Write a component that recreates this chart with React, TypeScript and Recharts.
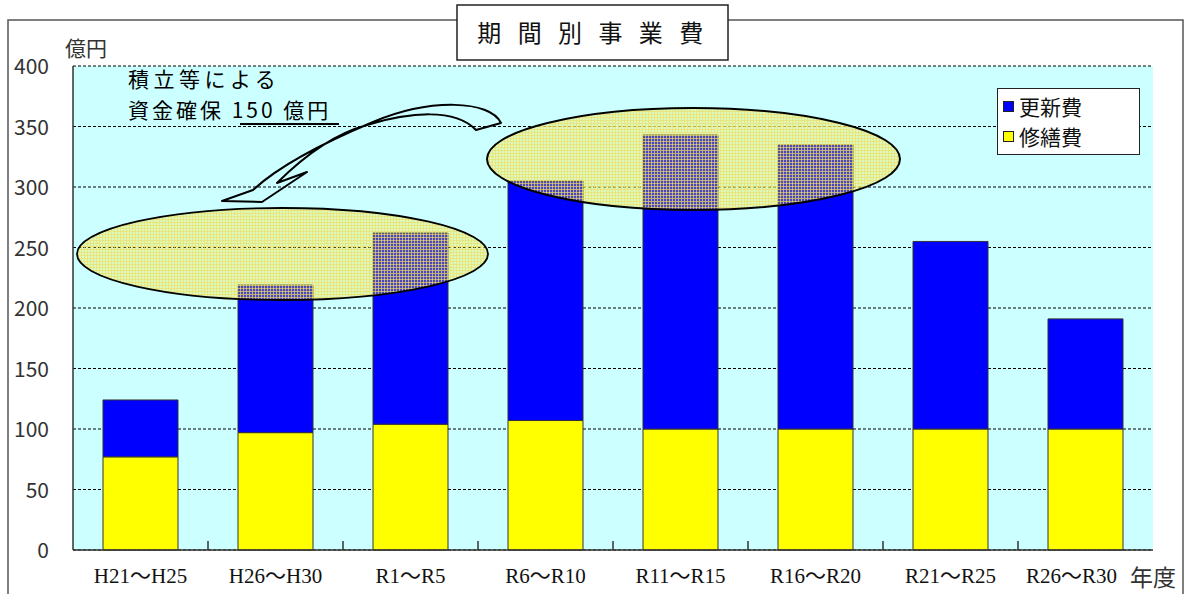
import React from 'react';
import { BarChart, Bar, XAxis, YAxis, CartesianGrid, Legend } from 'recharts';

const periods = ['H21～H25', 'H26～H30', 'R1～R5', 'R6～R10', 'R11～R15', 'R16～R20', 'R21～R25', 'R26～R30'];
const repairCost = [77, 97, 104, 107, 100, 100, 100, 100];
const renewalCost = [47, 122, 158, 198, 243, 235, 155, 91];
const yTicks = [0, 50, 100, 150, 200, 250, 300, 350, 400];

const data = periods.map((p, i) => ({ period: p, repair: repairCost[i], renewal: renewalCost[i] }));

const SANS = "'Noto Sans CJK JP', 'Noto Sans', sans-serif";
const SERIF = "'Liberation Serif', 'Noto Sans CJK JP', serif";

const XTick = (props: any) => {
  const axisW = typeof props.width === 'number' && props.width > 0 ? props.width : 1080;
  const half = axisW / periods.length / 2;
  const isLast = props.index === periods.length - 1;
  return (
    <g>
      {!isLast && <line x1={props.x + half} x2={props.x + half} y1={props.y} y2={props.y - 9} stroke="#333" strokeWidth={1.5} />}
      <text x={props.x} y={props.y} dx={isLast ? -14 : 0} dy={33} textAnchor="middle" fontFamily={SERIF} fontSize={21} fill="#111">
        {props.payload.value}
      </text>
    </g>
  );
};

const YTick = (props: any) => (
  <text x={49} y={props.y} dy={8} textAnchor="end" fontFamily={SANS} fontSize={21} fill="#333">
    {props.payload.value}
  </text>
);

const LegendBox = (props: any) => {
  const items = [...(props.payload || [])].reverse();
  return (
    <div style={{ width: 141, height: 63, background: '#fff', border: '1px solid #222', fontFamily: SANS, fontSize: 21, color: '#111', paddingTop: 2 }}>
      {items.map((it: any) => (
        <div key={it.value} style={{ display: 'flex', alignItems: 'center', height: 30, paddingLeft: 5 }}>
          <span style={{ display: 'inline-block', width: 9, height: 9, background: it.color, border: '1px solid #222', marginRight: 5 }} />
          {it.value}
        </div>
      ))}
    </div>
  );
};

export default function App() {
  return (
    <div style={{ position: 'absolute', left: 0, top: 0, width: 1184, height: 594, background: '#fff', fontFamily: SANS }}>
      <svg width={1184} height={594} style={{ position: 'absolute', left: 0, top: 0 }}>
        <path d="M8,594 L8,20 L1183,20 L1183,594" fill="none" stroke="#555" strokeWidth={1.5} />
      </svg>
      <div style={{ position: 'absolute', left: 0, top: 0 }}>
        <BarChart width={1184} height={594} data={data} margin={{ top: 66, right: 31, bottom: 0, left: 8 }} barSize={75}>
          <CartesianGrid vertical={false} fill="#ccffff" stroke="#000" strokeDasharray="3 2" />
          <XAxis dataKey="period" height={44} tick={<XTick />} tickLine={false} tickSize={0} tickMargin={0} axisLine={{ stroke: '#333', strokeWidth: 1.5 }} interval={0} />
          <XAxis xAxisId="top" orientation="top" dataKey="period" height={0} tick={false} tickLine={false} axisLine={{ stroke: '#999' }} />
          <YAxis domain={[0, 400]} ticks={yTicks} width={65} tick={<YTick />} tickLine={false} axisLine={{ stroke: '#333', strokeWidth: 1.5 }} />
          <YAxis yAxisId="r" orientation="right" width={0} tick={false} tickLine={false} axisLine={{ stroke: '#999' }} />
          <Legend layout="vertical" align="center" verticalAlign="middle" content={<LegendBox />}
            wrapperStyle={{ position: 'absolute', left: 997, top: 88, width: 143, height: 65 }} />
          <Bar dataKey="repair" name="修繕費" stackId="a" fill="#ffff00" stroke="#333" strokeWidth={1} isAnimationActive={false} />
          <Bar dataKey="renewal" name="更新費" stackId="a" fill="#0000ff" stroke="#333" strokeWidth={1} isAnimationActive={false} />
        </BarChart>
      </div>
      <svg width={1184} height={594} style={{ position: 'absolute', left: 0, top: 0, pointerEvents: 'none' }}>
        <defs>
          <pattern id="hatch" width={3} height={3} patternUnits="userSpaceOnUse">
            <rect width={3} height={3} fill="#ffee22" fillOpacity={0.3} />
            <rect width={3} height={1} fill="#eedd66" fillOpacity={0.65} />
            <rect width={1} height={3} fill="#eedd66" fillOpacity={0.65} />
          </pattern>
        </defs>
        <rect x={60} y={34} width={63} height={31} fill="#fff" />
        <text x={65} y={56} fontSize={21} fill="#333" fontFamily={SANS}>億円</text>
        <rect x={457} y={5} width={271} height={55} fill="#fff" stroke="#222" strokeWidth={1.5} />
        <text x={593} y={42} textAnchor="middle" fontSize={24} fill="#111" fontFamily={SANS} letterSpacing={5.5}>期 間 別 事 業 費</text>
        <ellipse cx={282.5} cy={254} rx={205.5} ry={46} fill="url(#hatch)" stroke="#000" strokeWidth={1.8} />
        <ellipse cx={693.5} cy={159} rx={206.5} ry={51} fill="url(#hatch)" stroke="#000" strokeWidth={2} />
        <path d="M501,123 C490,100 430,98 373,122 C330,140 280,165 253,190 L222,201 L262,202 L307,172 L277,183 C300,160 330,135 367,125 C410,112 455,108 476,130 Z"
          fill="none" stroke="#000" strokeWidth={2} strokeLinejoin="round" />
        <text x={128} y={87} fontSize={21} fill="#000" fontFamily={SANS} letterSpacing={4.5}>積立等による</text>
        <text x={128} y={118} fontSize={21} fill="#000" fontFamily={SANS} letterSpacing={3}>資金確保 150 億円</text>
        <line x1={240} y1={124} x2={339} y2={124} stroke="#000" strokeWidth={2} />
        <text x={1130} y={586} fontSize={23} fill="#333" fontFamily={SANS}>年度</text>
      </svg>
    </div>
  );
}
